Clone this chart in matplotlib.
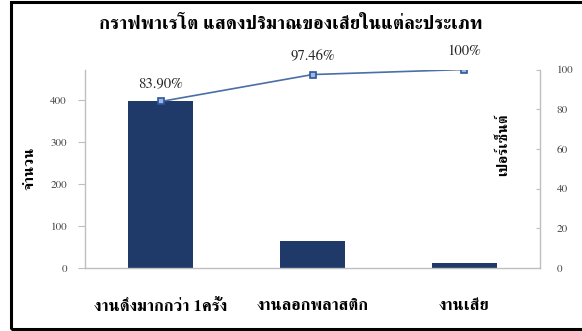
import matplotlib
matplotlib.use('Agg')
import matplotlib.pyplot as plt
from matplotlib.patches import Rectangle

categories = ['งานดึงมากกว่า 1ครั้ง', 'งานลอกพลาสติก', 'งานเสีย']
counts = [396, 64, 12]
cum_pct = [83.90, 97.46, 100.0]
pct_labels = ['83.90%', '97.46%', '100%']
left_ticks = [0, 100, 200, 300, 400]
right_ticks = [0, 20, 40, 60, 80, 100]

FONT = ['FreeSerif', 'Noto Serif Thai']
bar_color = '#1f3a68'
line_color = '#4a6fa5'
grey = '#bfbfbf'

fig = plt.figure(figsize=(5.82, 3.31), dpi=100)
ax = fig.add_axes([0.146, 0.190, 0.782, 0.600])
ax2 = ax.twinx()

x = list(range(len(categories)))
ax.bar(x, counts, width=0.43, color=bar_color, zorder=2)
ax.set_xlim(-0.5, 2.5)
ax.set_ylim(0, sum(counts))
ax.set_yticks(left_ticks)
ax.set_yticklabels([str(t) for t in left_ticks], family=FONT, fontsize=8, color='#404040')
ax.set_xticks(x)
ax.set_xticklabels(categories, family=FONT, fontsize=12, fontweight='bold')
ax.tick_params(axis='x', length=0, pad=22)
ax.tick_params(axis='y', length=5, color=grey, pad=8)
ax.set_ylabel('จำนวน', family=FONT, fontsize=11, fontweight='bold', labelpad=10)

ax2.plot(x, cum_pct, color=line_color, lw=1.2, marker='s', ms=5,
         mfc='#9bb8e6', mec='#2f5597', mew=1.2, zorder=3)
ax2.set_ylim(0, 100)
ax2.set_yticks(right_ticks)
ax2.set_yticklabels([str(t) for t in right_ticks], family=FONT, fontsize=8, color='#404040')
ax2.tick_params(axis='y', direction='in', length=3, color=grey, pad=12)
for xi, yi, lab in zip(x, cum_pct, pct_labels):
    ax2.annotate(lab, (xi, yi), xytext=(0, 8), textcoords='offset points',
                 ha='center', va='bottom', family=FONT, fontsize=10.5, color='#222222')
ax2.text(2.26, 62, 'เปอร์เซ็นต์', rotation=90, ha='center', va='center',
         family=FONT, fontsize=10.5, fontweight='bold')

for a in (ax, ax2):
    a.spines['top'].set_visible(False)
    for s in ('left', 'right', 'bottom'):
        a.spines[s].set_color(grey)
        a.spines[s].set_linewidth(1.0)
ax.spines['right'].set_visible(False)
ax2.spines['left'].set_visible(False)
ax2.spines['bottom'].set_visible(False)

fig.text(0.5, 0.925, 'กราฟพาเรโต แสดงปริมาณของเสียในแต่ละประเภท', ha='center', va='center',
         family=FONT, fontsize=13.5, fontweight='bold')

fig.patches.append(Rectangle((11 / 582, 2 / 331), 1.0, 327 / 331, transform=fig.transFigure,
                             fill=False, edgecolor='black', linewidth=2.2))

fig.savefig('out.png', dpi=100)
